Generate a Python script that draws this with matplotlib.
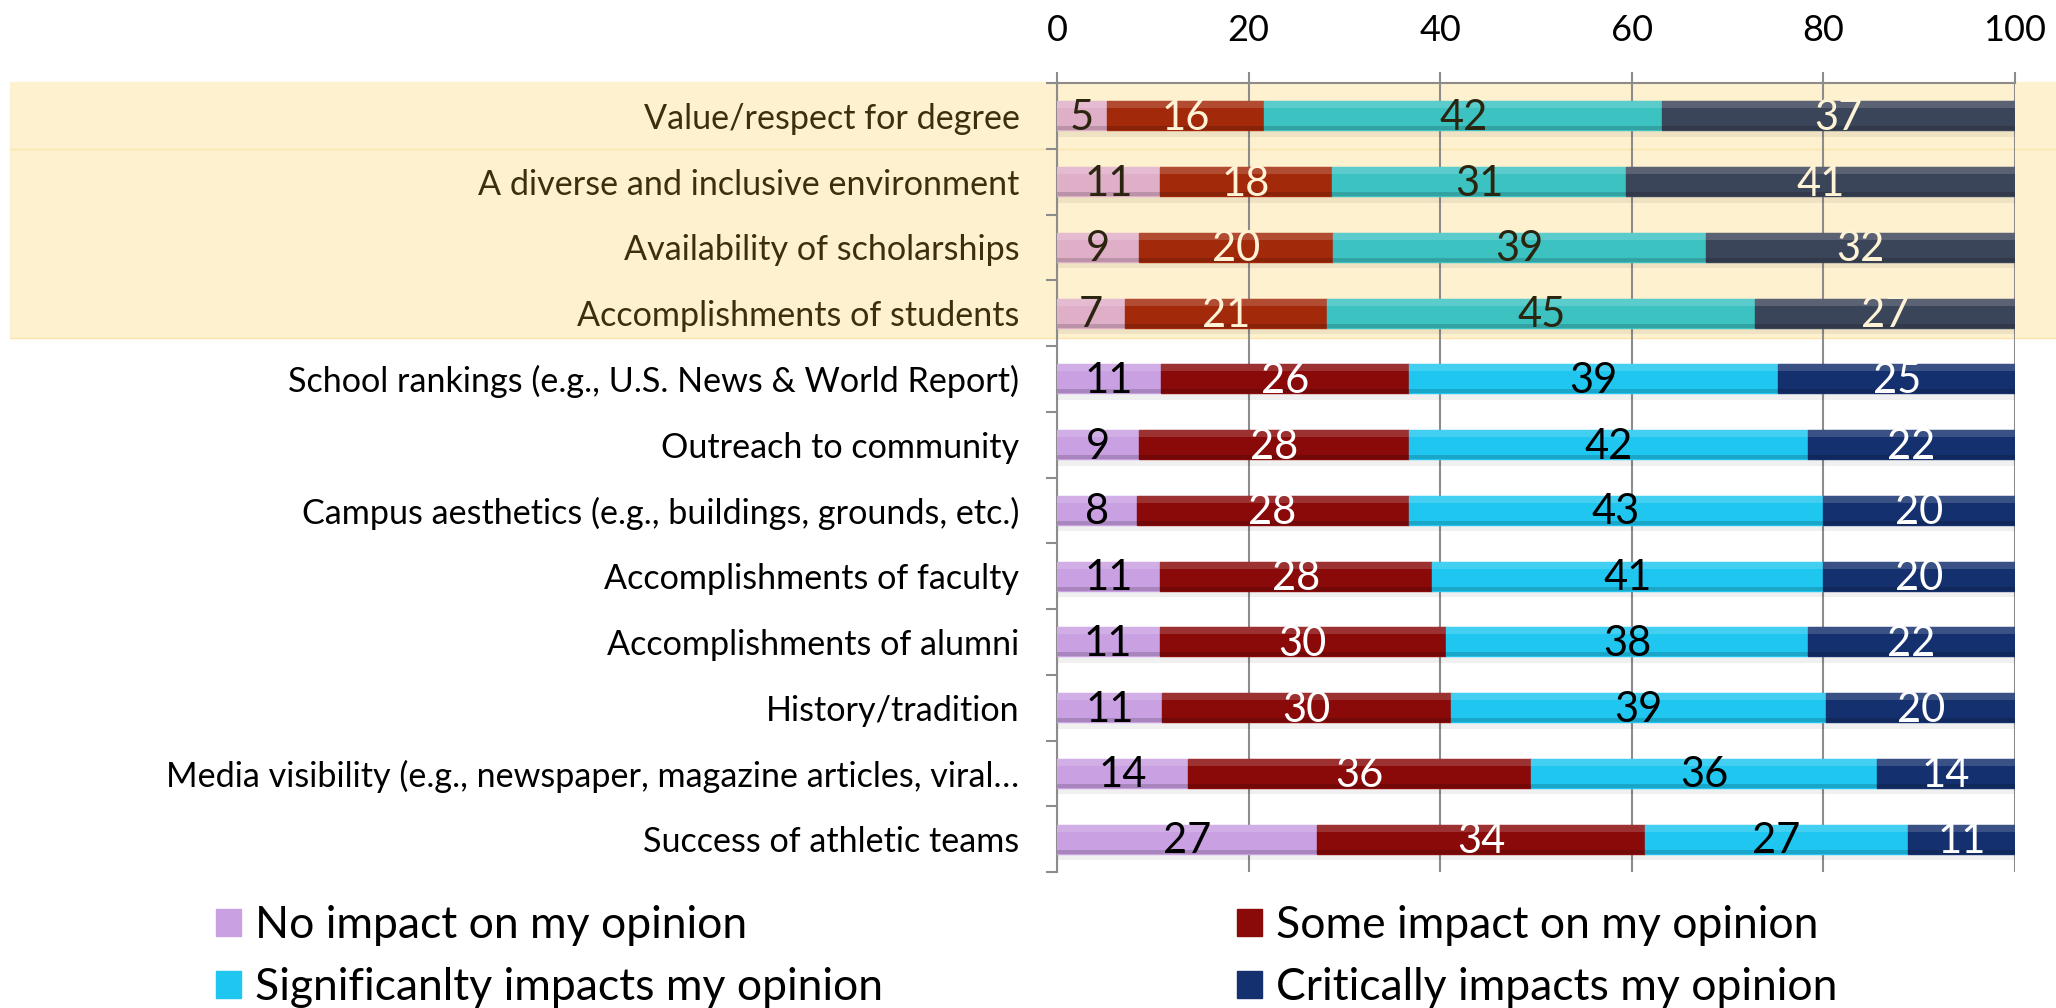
import matplotlib
matplotlib.use("Agg")
import matplotlib.pyplot as plt
import numpy as np
from matplotlib.patches import Patch, Rectangle
from matplotlib.transforms import blended_transform_factory

plt.rcParams['font.family'] = ['Lato', 'DejaVu Sans']

# data (percent of respondents)
categories = ["Value/respect for degree",
              "A diverse and inclusive environment",
              "Availability of scholarships",
              "Accomplishments of students",
              "School rankings (e.g., U.S. News & World Report)",
              "Outreach to community",
              "Campus aesthetics (e.g., buildings, grounds, etc.)",
              "Accomplishments of faculty",
              "Accomplishments of alumni",
              "History/tradition",
              "Media visibility (e.g., newspaper, magazine articles, viral\u2026",
              "Success of athletic teams"]
no_impact = [5.2, 10.8, 8.6, 7.1, 10.9, 8.6, 8.3, 10.8, 10.7, 11.0, 13.7, 27.1]
some_impact = [16.4, 17.9, 20.2, 21.1, 25.8, 28.1, 28.4, 28.3, 29.9, 30.1, 35.8, 34.3]
significant = [41.6, 30.7, 38.9, 44.7, 38.6, 41.7, 43.3, 40.9, 37.8, 39.2, 36.1, 27.4]
critical = [36.8, 40.6, 32.3, 27.1, 24.7, 21.6, 20.0, 20.0, 21.6, 19.7, 14.4, 11.2]
series_names = ["No impact on my opinion", "Some impact on my opinion",
                "Significanlty impacts my opinion", "Critically impacts my opinion"]
x_ticks = [0, 20, 40, 60, 80, 100]
n_highlight = 4  # top rows drawn in the highlighted band

# colours
band_colors = ['#DFAFC8', '#A3290B', '#3DC2C2', '#3B4559']
band_text = ['#2B2510', '#FFF3D6', '#2B2510', '#FFF3D6']
main_colors = ['#C9A0E2', '#8A0A0A', '#1FC6F0', '#15306E']
main_text = ['black', 'white', 'black', 'white']

fig = plt.figure(figsize=(20.56, 10.08), dpi=100)
ax = fig.add_axes([1057 / 2056, 1 - 872 / 1008, (2015 - 1057) / 2056, (872 - 83) / 1008])
ax.set_facecolor('none')

# highlighted band behind the first rows
band_tr = blended_transform_factory(fig.transFigure, ax.transData)
ax.add_patch(Rectangle((10 / 2056, -0.52), 1, n_highlight - 0.12, transform=band_tr,
                       color='#FEF1CF', zorder=0, clip_on=False))
ax.plot([10 / 2056, 1], [0.5, 0.5], transform=band_tr, color='#FBE3AE',
        lw=1, zorder=0.2, clip_on=False)
ax.plot([10 / 2056, 1], [n_highlight - 0.62, n_highlight - 0.62], transform=band_tr,
        color='#FBE3AE', lw=1, zorder=0.2, clip_on=False)

data = np.array([no_impact, some_impact, significant, critical])
y = np.arange(len(categories))
h = 0.44
totals = data.sum(axis=0)

# soft shadow under each bar
ax.barh(y + h / 2 + 0.05, totals, height=0.1, color='black', alpha=0.06, zorder=2)

left = np.zeros(len(categories))
for k in range(4):
    vals = data[k]
    cols = [band_colors[k] if i < n_highlight else main_colors[k] for i in y]
    ax.barh(y, vals, left=left, height=h, color=cols, edgecolor=cols, lw=1, zorder=3)
    # bevel: light top strip, dark bottom strip
    ax.barh(y - 0.38 * h, vals, left=left, height=0.24 * h, color='white',
            alpha=0.16, lw=0, zorder=4)
    ax.barh(y + 0.43 * h, vals, left=left, height=0.14 * h, color='black',
            alpha=0.16, lw=0, zorder=4)
    for i in y:
        tc = band_text[k] if i < n_highlight else main_text[k]
        ax.text(left[i] + vals[i] / 2, i + 0.03, f"{vals[i]:.0f}", ha='center', va='center',
                fontsize=30, color=tc, zorder=5)
    left = left + vals

ax.set_xlim(0, 100)
ax.set_ylim(len(categories) - 0.5, -0.5)

ax.xaxis.tick_top()
ax.set_xticks(x_ticks)
ax.tick_params(axis='x', which='major', direction='out', length=8, width=1.5,
               color='#8C8C8C', labelsize=26, pad=18)
ax.grid(axis='x', color='#8C8C8C', lw=1.5, zorder=1)
ax.set_axisbelow(True)

ax.set_yticks(y)
ax.set_yticklabels(categories)
ax.set_yticks(np.arange(len(categories) + 1) - 0.5, minor=True)
ax.tick_params(axis='y', which='major', length=0, labelsize=24.6, pad=27)
ax.tick_params(axis='y', which='minor', direction='out', length=8, width=1.5, color='#8C8C8C')
for i, lab in enumerate(ax.get_yticklabels()):
    lab.set_color('#3B2F0E' if i < n_highlight else 'black')

for s in ['right', 'bottom']:
    ax.spines[s].set_visible(False)
for s in ['top', 'left']:
    ax.spines[s].set_color('#8C8C8C')
    ax.spines[s].set_linewidth(1.5)

# legend in two rows, two columns
handles = [Patch(facecolor=c, edgecolor=c) for c in main_colors]
leg_kw = dict(frameon=False, fontsize=32, handlelength=0.57, handleheight=0.57,
              handletextpad=0.3, labelspacing=0.48, borderpad=0, borderaxespad=0,
              loc='upper left')
fig.legend([handles[0], handles[2]], [series_names[0], series_names[2]],
           bbox_to_anchor=(216 / 2056, 1 - 905 / 1008), **leg_kw)
fig.legend([handles[1], handles[3]], [series_names[1], series_names[3]],
           bbox_to_anchor=(1237 / 2056, 1 - 905 / 1008), **leg_kw)

fig.savefig("out.png", dpi=100)
